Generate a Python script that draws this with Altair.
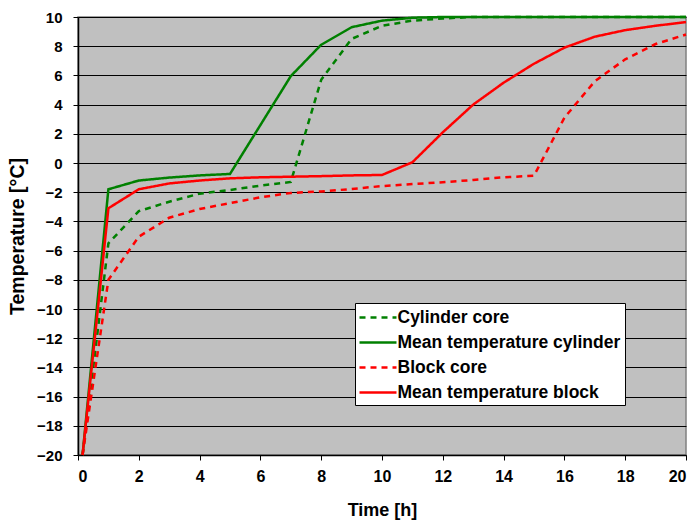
import altair as alt
import pandas as pd

time_h = [0.15, 1, 2, 3, 4, 5, 6, 7, 8, 9, 10, 11, 12, 13, 14, 15, 16, 17, 18, 19, 20]

cylinder_core = [-20, -5.5, -3.3, -2.65, -2.1, -1.85, -1.55, -1.3, 5.7, 8.5, 9.4, 9.75, 9.9, 10, 10, 10, 10, 10, 10, 10, 10]
mean_cylinder = [-20, -1.8, -1.2, -1.0, -0.85, -0.75, 2.6, 5.95, 8.1, 9.3, 9.75, 9.95, 10, 10, 10, 10, 10, 10, 10, 10, 10]
block_core = [-20, -8.0, -5.05, -3.75, -3.15, -2.75, -2.35, -2.05, -1.95, -1.78, -1.58, -1.44, -1.32, -1.16, -0.98, -0.87, 3.1, 5.6, 7.1, 8.15, 8.8]
mean_block = [-20, -3.1, -1.8, -1.4, -1.2, -1.05, -0.98, -0.94, -0.9, -0.85, -0.82, 0.05, 2.1, 4.0, 5.5, 6.8, 7.9, 8.65, 9.1, 9.4, 9.65]

series_names = ["Cylinder core", "Mean temperature cylinder", "Block core", "Mean temperature block"]
series_colors = ["#008000", "#008000", "#FF0000", "#FF0000"]
series_dashes = [[6, 5], [1, 0], [6, 5], [1, 0]]

rows = []
for name, vals in zip(series_names, [cylinder_core, mean_cylinder, block_core, mean_block]):
    for t, v in zip(time_h, vals):
        rows.append({"time": t, "temp": v, "series": name})
df = pd.DataFrame(rows)

font = "Liberation Sans"

chart = alt.Chart(df).mark_line(strokeWidth=2.5).encode(
    x=alt.X("time:Q", scale=alt.Scale(domain=[0, 20], nice=False),
            axis=alt.Axis(title="Time [h]", values=list(range(0, 21, 2)), grid=False,
                          tickSize=5, labelPadding=8, titlePadding=17,
                          labelFontSize=16, titleFontSize=18)),
    y=alt.Y("temp:Q", scale=alt.Scale(domain=[-20, 10], nice=False),
            axis=alt.Axis(title="Temperature [°C]", values=list(range(-20, 11, 2)), grid=True,
                          tickSize=5, labelPadding=11, titlePadding=9,
                          labelFontSize=15, titleFontSize=19.5)),
    color=alt.Color("series:N", scale=alt.Scale(domain=series_names, range=series_colors),
                    sort=series_names,
                    legend=alt.Legend(title=None, orient="none", legendX=277, legendY=286,
                                      symbolType="M-2,0H2", symbolSize=342, symbolStrokeWidth=2.5,
                                      symbolFillColor="transparent", symbolOffset=8.5,
                                      labelFont=font, labelFontSize=17.5, labelFontWeight="bold",
                                      labelColor="black", labelLimit=400,
                                      fillColor="white", strokeColor="#000000",
                                      padding=4, rowPadding=6, labelOffset=9)),
    strokeDash=alt.StrokeDash("series:N", scale=alt.Scale(domain=series_names, range=series_dashes),
                              sort=series_names, legend=None),
    order=alt.Order("time:Q"),
).properties(
    width=608, height=438,
    background="white",
    padding={"left": 78, "top": 17, "right": 9, "bottom": 70},
    autosize=alt.AutoSizeParams(type="none"),
).configure_view(
    fill="#C0C0C0", stroke="#808080", strokeWidth=1.5
).configure_axis(
    domainColor="black", tickColor="black", gridColor="black", gridWidth=1, gridOpacity=1,
    labelFont=font, labelFontWeight="bold", labelColor="black",
    titleFont=font, titleFontWeight="bold", titleColor="black",
    domainWidth=1.5,
)

chart.save("out.html", embed_options={"renderer": "svg", "actions": False})
